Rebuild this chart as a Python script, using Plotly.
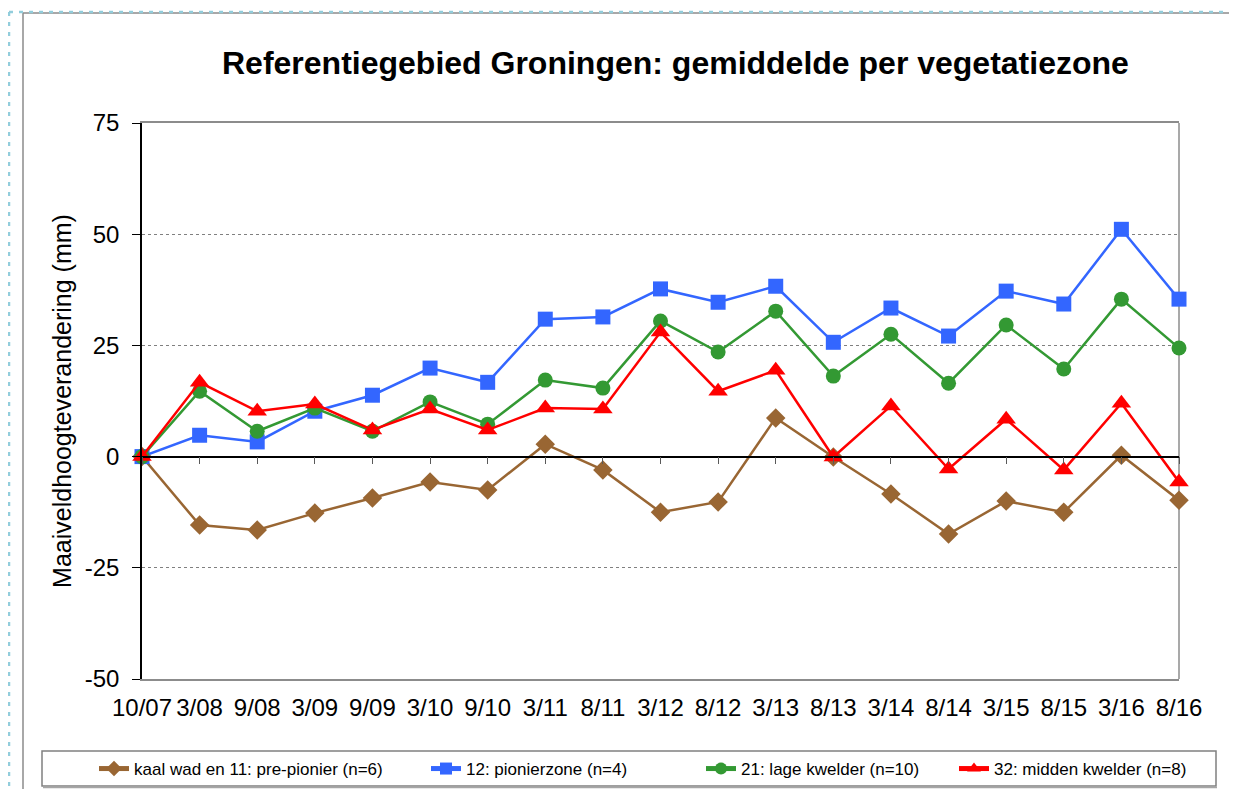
import plotly.graph_objects as go

categories = ["10/07", "3/08", "9/08", "3/09", "9/09", "3/10", "9/10", "3/11", "8/11", "3/12",
              "8/12", "3/13", "8/13", "3/14", "8/14", "3/15", "8/15", "3/16", "8/16"]

kaal_wad = [0, -15.4, -16.5, -12.7, -9.3, -5.7, -7.5, 2.8, -3.0, -12.5,
            -10.2, 8.7, -0.1, -8.4, -17.4, -10.0, -12.5, 0.3, -9.8]
pionierzone = [0, 4.8, 3.3, 10.2, 13.8, 19.9, 16.7, 30.9, 31.4, 37.7,
               34.7, 38.3, 25.7, 33.4, 27.1, 37.2, 34.3, 51.1, 35.4]
lage_kwelder = [0, 14.7, 5.7, 10.9, 5.7, 12.3, 7.3, 17.2, 15.4, 30.5,
                23.5, 32.7, 18.1, 27.5, 16.5, 29.6, 19.7, 35.4, 24.4]
midden_kwelder = [0, 16.7, 10.2, 11.8, 6.0, 10.7, 6.0, 10.9, 10.7, 28.0,
                  14.7, 19.4, -0.1, 11.4, -2.8, 8.4, -3.0, 12.0, -5.7]

series_names = ["kaal wad en 11: pre-pionier (n=6)", "12: pionierzone (n=4)",
                "21: lage kwelder (n=10)", "32: midden kwelder (n=8)"]
y_ticks = [-50, -25, 0, 25, 50, 75]
y_tick_text = ["-50", "-25", "0", "25", "50", "75"]

# page body has an 8px margin: work in screen pixels and convert
OFF = 8
W, H = 1237 - OFF, 789 - OFF
L, R, T, B = 142, 1179, 123, 679          # plot area, screen px
FONT = "Liberation Sans, Arial, sans-serif"


def px(x):
    return (x - L) / (R - L)


def py(y):
    return (B - y) / (B - T)


def cy(y):
    return 1 - (y - OFF) / H


def cx(x):
    return (x - OFF) / W


styles = [
    dict(color="#996633", symbol="diamond", size=15),
    dict(color="#3366FF", symbol="square", size=15),
    dict(color="#339933", symbol="circle", size=15),
    dict(color="#FF0000", symbol="triangle-up", size=17),
]
data = [kaal_wad, pionierzone, lage_kwelder, midden_kwelder]
legend_x = [94, 426, 701, 954]

fig = go.Figure()
for i, (vals, name, st) in enumerate(zip(data, series_names, styles)):
    lg = "legend" if i == 0 else f"legend{i+1}"
    fig.add_trace(go.Scatter(
        x=categories, y=vals, name=name, mode="lines+markers",
        line=dict(color=st["color"], width=2.5),
        marker=dict(color=st["color"], symbol=st["symbol"], size=st["size"]),
        cliponaxis=False, legend=lg,
    ))

# invisible trace to carry the zero-crossing tick axis
fig.add_trace(go.Scatter(x=categories, y=[None] * len(categories), xaxis="x2",
                         showlegend=False, hoverinfo="skip"))

legend_common = dict(orientation="h", font=dict(family=FONT, size=17, color="black"),
                     bgcolor="rgba(0,0,0,0)", borderwidth=0, yanchor="middle",
                     xanchor="left", itemsizing="constant",
                     xref="container", yref="container")
for i in range(4):
    key = "legend" if i == 0 else f"legend{i+1}"
    fig.update_layout({key: dict(legend_common, x=cx(legend_x[i]), y=cy(769))})

shapes = [
    # outer chart frame
    dict(type="rect", xref="paper", yref="paper", x0=px(23), x1=px(1232), y0=py(13), y1=py(805),
         line=dict(color="#8C8C8C", width=1.5), layer="below"),
    # selection dotted border
    dict(type="line", xref="paper", yref="paper", x0=px(9), x1=px(1240), y0=py(12), y1=py(12),
         line=dict(color="#92CDDC", width=2.5, dash="4px,6px")),
    dict(type="line", xref="paper", yref="paper", x0=px(9), x1=px(9), y0=py(12), y1=py(795),
         line=dict(color="#92CDDC", width=2.5, dash="4px,6px")),
    # plot-area right border
    dict(type="line", xref="paper", yref="paper", x0=1, x1=1, y0=0, y1=1,
         line=dict(color="#8C8C8C", width=1.5), layer="below"),
    # legend frame
    dict(type="rect", xref="paper", yref="paper", x0=px(42), x1=px(1216), y0=py(751), y1=py(786),
         line=dict(color="#808080", width=1.5), layer="below"),
    dict(type="line", xref="paper", yref="paper", x0=px(43), x1=px(1217), y0=py(787.5), y1=py(787.5),
         line=dict(color="#A6A6A6", width=1.5), layer="below"),
]

fig.update_layout(
    width=W, height=H,
    margin=dict(l=L - OFF, r=W - (R - OFF), t=T - OFF, b=H - (B - OFF), pad=0, autoexpand=False),
    paper_bgcolor="white", plot_bgcolor="white",
    font=dict(family=FONT, color="black"),
    showlegend=True,
    shapes=shapes,
    annotations=[dict(
        text="<b>Referentiegebied Groningen: gemiddelde per vegetatiezone</b>",
        xref="paper", yref="paper", x=px(675), y=py(63), xanchor="center", yanchor="middle",
        showarrow=False, font=dict(family=FONT, size=32, color="black"))],
    xaxis=dict(
        type="category", categoryorder="array", categoryarray=categories,
        range=[0, len(categories) - 1], showgrid=False, zeroline=False,
        showline=True, linecolor="#8C8C8C", linewidth=1.5, mirror=True,
        ticks="", tickfont=dict(family=FONT, size=24, color="black"),
        ticklabelstandoff=6, fixedrange=True,
    ),
    xaxis2=dict(
        type="category", categoryorder="array", categoryarray=categories,
        range=[0, len(categories) - 1], overlaying="x", anchor="free",
        position=(0 - y_ticks[0]) / (y_ticks[-1] - y_ticks[0]),
        side="bottom", showgrid=False, zeroline=False, showticklabels=False,
        showline=True, linecolor="black", linewidth=1.5,
        ticks="outside", ticklen=7, tickcolor="#595959", tickwidth=1,
        tickmode="array", tickvals=categories, fixedrange=True,
    ),
    yaxis=dict(
        range=[y_ticks[0], y_ticks[-1]], tickmode="array", tickvals=y_ticks,
        ticktext=y_tick_text,
        showgrid=True, gridcolor="#808080", griddash="dot", gridwidth=1,
        zeroline=False, showline=True, linecolor="black", linewidth=1.5,
        ticks="outside", ticklen=8, tickcolor="black", ticklabelstandoff=8,
        tickfont=dict(family=FONT, size=24, color="black"),
        title=dict(text="Maaiveldhoogteverandering (mm)",
                   font=dict(family=FONT, size=25, color="black"), standoff=6),
        fixedrange=True,
    ),
)

fig.write_html("out.html")
